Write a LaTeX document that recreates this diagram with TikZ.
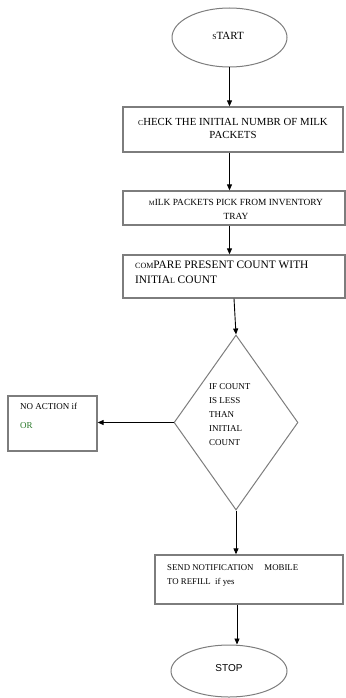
\documentclass[tikz,border=0pt]{standalone}
\usepackage{fontspec}
\setmainfont{Liberation Serif}
\newfontfamily\stopfont{Liberation Sans}
\usetikzlibrary{shapes.geometric,arrows.meta}
\definecolor{edgegray}{RGB}{125,125,125}
\definecolor{ordgreen}{RGB}{40,120,40}
\newcommand{\smc}[1]{{\fontsize{0.7\dimexpr\fontdimen6\font\relax}{0pt}\selectfont\uppercase{#1}}}
\tikzset{
  flowbox/.style={draw=edgegray, line width=1.3pt, rectangle, inner sep=0pt},
  flowoval/.style={draw=edgegray, line width=1pt, ellipse, inner sep=0pt},
  flowarrow/.style={-{Triangle[length=6pt,width=5pt]}, line width=0.9pt, black},
  boxtext/.style={inner sep=0pt, font=\fontsize{10.8pt}{13pt}\selectfont, align=center}
}
\begin{document}
\begin{tikzpicture}[x=1pt, y=-1pt]
			\useasboundingbox (0,0) rectangle (345,698);
			\node[flowoval, minimum width=115pt, minimum height=59pt] (start) at (229.5,37.5) {};
			\node[inner sep=0pt, font=\fontsize{11pt}{12pt}\selectfont] (starttext) at (228,36) {\smc{s}TART};
			\node[flowbox, minimum width=220pt, minimum height=45pt] (check) at (233,129.5) {};
			\node[boxtext] (checktext) at (233,128) {\smc{c}HECK THE INITIAL NUMBR OF MILK\\PACKETS};
			\node[flowbox, minimum width=222pt, minimum height=34pt] (pick) at (234,208) {};
			\node[boxtext, font=\fontsize{9.4pt}{14pt}\selectfont] (picktext) at (236,209) {\smc{m}ILK PACKETS PICK FROM INVENTORY\\TRAY};
			\node[flowbox, minimum width=222pt, minimum height=43pt] (compare) at (234,276.5) {};
			\node[boxtext, align=left, anchor=north west, font=\fontsize{11.4pt}{15pt}\selectfont] (comparetext) at (135,261) {\smc{com}PARE PRESENT COUNT WITH\\INITIA\smc{l} COUNT};
			\node[flowbox, shape=diamond, minimum width=124pt, minimum height=175pt, line width=1pt] (check2) at (236,422.5) {};
			\node[inner sep=0pt, align=left, anchor=north west, font=\fontsize{9pt}{14pt}\selectfont] (check2text) at (209,383) {IF COUNT\\IS LESS\\THAN\\INITIAL\\COUNT};
			\node[flowbox, minimum width=89pt, minimum height=55pt] (noaction) at (52.5,423.5) {};
			\node[inner sep=0pt, align=left, anchor=north west, font=\fontsize{9pt}{19pt}\selectfont] (noactiontext) at (20,403) {NO ACTION if\\\textcolor{ordgreen}{OR}};
			\node[flowbox, minimum width=188pt, minimum height=49pt] (notify) at (249,579.5) {};
			\node[inner sep=0pt, align=left, anchor=north west, font=\fontsize{8.8pt}{14pt}\selectfont] (notifytext) at (167,564) {SEND NOTIFICATION\quad\ MOBILE\\TO REFILL\ \ if yes};
			\node[flowoval, minimum width=116pt, minimum height=52pt] (stop) at (229,671) {};
			\node[inner sep=0pt, font=\stopfont\fontsize{10pt}{11pt}\selectfont] (stoptext) at (229,668) {STOP};
			\draw[flowarrow] (start.south) -- (start.south |- check.north);
			\draw[flowarrow] (check.south -| start.south) -- (start.south |- pick.north);
			\draw[flowarrow] (pick.south -| start.south) -- (start.south |- compare.north);
			\draw[flowarrow] ([xshift=-2pt]compare.south -| check2.north) -- (check2.north);
			\draw[flowarrow] (check2.west) -- (noaction.east |- check2.west);
			\draw[flowarrow] (check2.south) -- (check2.south |- notify.north);
			\draw[flowarrow] ([xshift=1pt]notify.south -| check2.south) -- ([xshift=1pt]check2.south |- stop.north);
		\end{tikzpicture}
\end{document}
